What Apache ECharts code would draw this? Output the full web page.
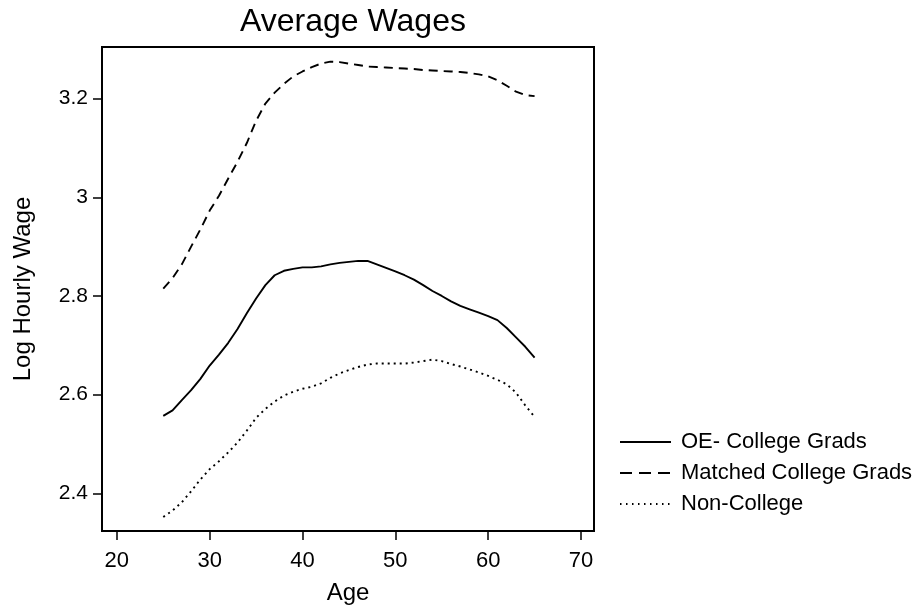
<!DOCTYPE html>
<html>
<head>
<meta charset="utf-8">
<script src="https://cdn.jsdelivr.net/npm/echarts@6/dist/echarts.min.js"></script>
<style>html,body{margin:0;padding:0;background:#fff}#c{width:920px;height:607px}</style>
</head>
<body>
<div id="c"></div>
<script>
var ages = [25,26,27,28,29,30,31,32,33,34,35,36,37,38,39,40,41,42,43,44,45,46,47,48,49,50,51,52,53,54,55,56,57,58,59,60,61,62,63,64,65];
var oeGrads = [2.557,2.568,2.589,2.609,2.632,2.659,2.681,2.705,2.733,2.765,2.795,2.822,2.842,2.851,2.855,2.858,2.858,2.860,2.864,2.867,2.869,2.871,2.871,2.864,2.857,2.850,2.842,2.833,2.822,2.810,2.800,2.789,2.780,2.773,2.766,2.759,2.751,2.735,2.716,2.697,2.675];
var matchedGrads = [2.815,2.836,2.864,2.900,2.935,2.973,3.003,3.038,3.072,3.110,3.155,3.190,3.212,3.230,3.245,3.255,3.264,3.271,3.275,3.274,3.271,3.268,3.265,3.264,3.263,3.262,3.261,3.260,3.258,3.257,3.256,3.255,3.254,3.252,3.249,3.245,3.237,3.226,3.214,3.207,3.205];
var nonCollege = [2.352,2.365,2.382,2.404,2.428,2.449,2.465,2.483,2.503,2.527,2.553,2.571,2.586,2.598,2.606,2.612,2.616,2.623,2.634,2.643,2.650,2.656,2.661,2.663,2.663,2.663,2.663,2.665,2.668,2.671,2.668,2.662,2.657,2.651,2.645,2.638,2.630,2.621,2.604,2.578,2.555];
var xTicks = [20,30,40,50,60,70];
var yTicks = [2.4,2.6,2.8,3.0,3.2];
var seriesNames = ['OE- College Grads','Matched College Grads','Non-College'];

function pairs(vals){ return ages.map(function(a,i){ return [a, vals[i]]; }); }
var FONT = 'Liberation Sans, Arial, sans-serif';
var chart = echarts.init(document.getElementById('c'), null, {renderer:'canvas'});
chart.setOption({
  animation:false,
  backgroundColor:'#fff',
  title:{ text:'Average Wages', left:348, top:1, textAlign:'center',
    textStyle:{ fontFamily:FONT, fontSize:32, fontWeight:'normal', color:'#000' } },
  grid:{ left:102, right:326, top:47, bottom:76, show:true, borderColor:'#000', borderWidth:2,
    backgroundColor:'transparent', containLabel:false, outerBoundsMode:'none' },
  legend:{ orient:'vertical', left:614, top:426, itemWidth:51, itemHeight:14, itemGap:9,
    itemStyle:{ opacity:0 },
    data:[
      { name:seriesNames[0], lineStyle:{ type:'solid', width:2 } },
      { name:seriesNames[1], lineStyle:{ type:[12,7], width:2 } },
      { name:seriesNames[2], lineStyle:{ type:[1.5,4.5], width:2 } }
    ],
    textStyle:{ fontFamily:FONT, fontSize:22, color:'#000', padding:[0,0,0,5] } },
  xAxis:{ type:'value', min:18.4, max:71.4,
    name:'Age', nameLocation:'middle', nameGap:50,
    nameTextStyle:{ fontFamily:FONT, fontSize:24, color:'#000' },
    axisLine:{ show:false },
    splitLine:{ show:false },
    axisTick:{ show:true, customValues:xTicks, length:9, inside:false, lineStyle:{ color:'#000', width:1.5 } },
    axisLabel:{ customValues:xTicks, margin:19, fontFamily:FONT, fontSize:22, color:'#000' } },
  yAxis:{ type:'value', min:2.3236, max:3.3046,
    name:'Log Hourly Wage', nameLocation:'middle', nameGap:67,
    nameTextStyle:{ fontFamily:FONT, fontSize:24, color:'#000' },
    axisLine:{ show:false },
    splitLine:{ show:false },
    axisTick:{ show:true, customValues:yTicks, length:9, lineStyle:{ color:'#000', width:1.5 } },
    axisLabel:{ customValues:yTicks, margin:14, fontFamily:FONT, fontSize:21, color:'#000',
      formatter:function(v){ return String(Math.round(v*10)/10); } } },
  series:[
    { name:seriesNames[0], type:'line', data:pairs(oeGrads), symbol:'none', smooth:false,
      lineStyle:{ color:'#000', width:1.9, type:'solid' }, itemStyle:{ color:'#000' } },
    { name:seriesNames[1], type:'line', data:pairs(matchedGrads), symbol:'none', smooth:false,
      lineStyle:{ color:'#000', width:1.9, type:[9,6] }, itemStyle:{ color:'#000' } },
    { name:seriesNames[2], type:'line', data:pairs(nonCollege), symbol:'none', smooth:false,
      lineStyle:{ color:'#000', width:1.9, type:[2,4] }, itemStyle:{ color:'#000' } }
  ]
});
</script>
</body>
</html>
